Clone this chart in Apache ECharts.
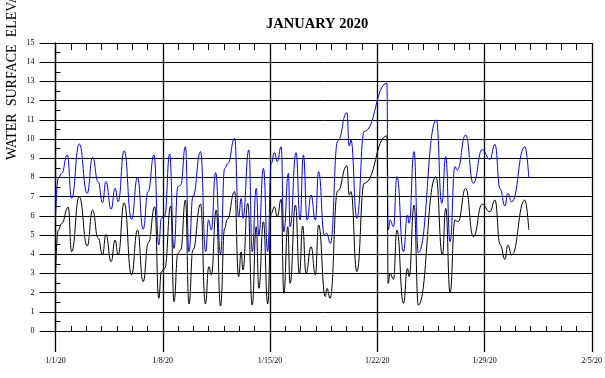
<!DOCTYPE html>
<html>
<head>
<meta charset="utf-8">
<script src="https://cdn.jsdelivr.net/npm/echarts@6/dist/echarts.min.js"></script>
<style>html,body{margin:0;padding:0;background:#fff}#c{width:605px;height:378px}</style>
</head>
<body>
<div id="c"></div>
<script>
// x values: days after 1/1/20 00:00 ; y values: water surface elevation
const xTickLabels = ['1/1/20', '1/8/20', '1/15/20', '1/22/20', '1/29/20', '2/5/20'];
const yTickValues = [0, 1, 2, 3, 4, 5, 6, 7, 8, 9, 10, 11, 12, 13, 14, 15];

const blackDays = [0.0, 0.18, 0.40, 0.83, 1.05, 1.55, 2.07, 2.42, 2.78, 3.07, 3.29, 3.63, 3.89, 4.09, 4.48, 4.96, 5.35, 5.72,
  6.06, 6.48, 6.74, 6.91, 7.13, 7.52, 7.73, 7.99, 8.17, 8.48, 8.71, 8.97, 9.47, 9.78, 10.01, 10.17, 10.49, 10.77,
  11.04, 11.21, 11.69, 11.95, 12.12, 12.23, 12.55, 12.84, 13.10, 13.27, 13.57, 13.85, 14.08, 14.29, 14.47, 14.73,
  14.90, 15.16, 15.31, 15.66, 15.92, 16.13, 16.35, 16.68, 16.96, 17.17, 17.61, 17.72, 17.92, 18.42, 19.02, 19.17,
  19.28, 19.67, 20.15, 21.63, 21.71, 21.84, 22.06, 22.28, 22.71, 22.97, 23.08, 23.40, 23.68, 24.83, 25.25, 25.47,
  25.75, 26.07, 26.27, 26.77, 27.27, 27.85, 28.35, 28.68, 29.02, 29.33, 29.52, 29.77, 30.63, 30.89];
const blackVals = [3.0, 5.26, 5.6, 6.45, 4.13, 7.0, 4.43, 6.3, 4.85, 3.96, 5.03, 3.61, 4.74, 3.96, 6.68, 2.92, 5.26, 2.57,
  4.6, 6.47, 1.7, 3.09, 3.26, 6.51, 1.53, 4.05, 4.22, 6.82, 1.41, 4.22, 6.61, 1.41, 3.35, 2.92, 6.3, 1.3,
  5.35, 5.82, 7.26, 2.83, 4.13, 3.18, 6.65, 1.35, 5.43, 2.22, 5.69, 1.41, 6.13, 6.47, 5.95, 6.86,
  1.96, 5.43, 2.48, 6.56, 2.97, 5.47, 3.0, 4.39, 2.92, 5.52, 1.79, 2.22, 1.7, 7.3, 8.6, 7.08,
  7.26, 3.09, 7.7, 10.16, 2.48, 3.0, 2.69, 5.26, 1.44, 3.26, 2.83, 6.56, 1.35, 8.04, 3.96, 6.39,
  2.0, 5.78, 5.69, 7.43, 4.91, 6.6, 6.21, 6.82, 4.5, 3.73, 4.48, 3.96, 6.82, 5.26];

const blueDays = [0.0, 0.18, 0.40, 0.77, 1.05, 1.55, 2.07, 2.42, 2.78, 3.07, 3.29, 3.63, 3.89, 4.09, 4.48, 4.96, 5.35, 5.72,
  6.04, 6.43, 6.74, 6.91, 7.13, 7.45, 7.73, 7.99, 8.17, 8.48, 8.71, 8.97, 9.47, 9.80, 9.99, 10.17, 10.45, 10.77,
  11.04, 11.25, 11.69, 11.95, 12.12, 12.23, 12.62, 12.84, 13.10, 13.27, 13.57, 13.85, 14.08, 14.29, 14.47, 14.73,
  14.90, 15.20, 15.31, 15.70, 15.96, 16.18, 16.42, 16.68, 16.96, 17.17, 17.55, 17.70, 17.94, 18.42, 19.02, 19.17,
  19.28, 19.67, 20.15, 21.63, 21.71, 21.84, 22.06, 22.28, 22.71, 22.97, 23.08, 23.40, 23.68, 24.86, 25.21, 25.47,
  25.75, 26.07, 26.22, 26.77, 27.27, 27.85, 28.35, 28.68, 29.02, 29.33, 29.52, 29.77, 30.63, 30.89];
const blueVals = [5.87, 7.95, 8.21, 9.17, 6.91, 9.74, 7.17, 9.05, 7.78, 6.68, 7.78, 6.34, 7.43, 6.73, 9.39, 5.82, 7.99, 5.3,
  7.26, 9.17, 4.48, 5.87, 5.99, 9.22, 4.3, 7.52, 7.6, 9.6, 4.13, 7.0, 9.34, 4.13, 5.78, 5.26, 8.25, 4.01,
  8.47, 8.73, 10.03, 5.95, 6.91, 5.87, 9.43, 4.13, 7.43, 5.0, 8.47, 4.13, 8.73, 9.29, 8.82, 9.6,
  5.17, 8.21, 5.43, 9.29, 5.78, 9.17, 5.78, 7.08, 5.78, 8.3, 5.0, 5.09, 4.57, 9.9, 11.37, 9.64,
  9.95, 5.87, 10.4, 12.9, 5.26, 5.78, 5.43, 8.04, 4.13, 6.04, 5.61, 9.34, 4.08, 10.99, 6.65, 9.08,
  4.65, 8.56, 8.39, 10.21, 7.69, 9.45, 8.94, 9.72, 7.4, 6.51, 7.17, 6.73, 9.6, 8.0];

const blackData = blackDays.map((d, i) => [d, blackVals[i]]);
const blueData = blueDays.map((d, i) => [d, blueVals[i]]);

const chart = echarts.init(document.getElementById('c'), null, { renderer: 'canvas' });
const serif = 'Liberation Serif';
const xMin = 0, xMax = 35, xStep = 7;
const yMin = yTickValues[0], yMax = yTickValues[yTickValues.length - 1];

chart.setOption({
  animation: false,
  backgroundColor: '#fff',
  title: {
    text: 'JANUARY 2020', left: 261, top: 12,
    textStyle: { fontFamily: serif, fontSize: 14.5, fontWeight: 'bold', color: '#000' }
  },
  graphic: [{
    type: 'text', x: 12, y: 160, rotation: Math.PI / 2,
    style: { text: 'WATER  SURFACE  ELEVATION  (FT)', fontFamily: serif, fontSize: 14, fill: '#000',
      textAlign: 'left', textVerticalAlign: 'middle' }
  }],
  grid: { left: 55.5, right: 12, top: 43, bottom: 47 },
  xAxis: [
    {
      type: 'value', min: xMin, max: xMax, interval: xStep, position: 'bottom',
      axisLine: { show: true, onZero: false, lineStyle: { color: '#000', width: 1 } },
      axisTick: { show: true, length: 21, lineStyle: { color: '#000', width: 1.3 } },
      axisLabel: { margin: 26, fontFamily: serif, fontSize: 8, color: '#000',
        formatter: v => xTickLabels[Math.round(v / xStep)] },
      splitLine: { show: true, lineStyle: { color: '#000', width: 1.3 } }
    },
    {
      type: 'value', min: xMin, max: xMax, interval: xStep, position: 'bottom',
      axisLine: { show: false, onZero: false },
      axisTick: { show: false, inside: true },
      minorTick: { show: true, splitNumber: 7, length: 5, lineStyle: { color: '#000', width: 1 } },
      axisLabel: { show: false }, splitLine: { show: false }
    },
    {
      type: 'value', min: xMin, max: xMax, interval: xStep, position: 'top',
      axisLine: { show: true, onZero: false, lineStyle: { color: '#000', width: 1 } },
      axisTick: { show: false, inside: true },
      minorTick: { show: true, splitNumber: 7, length: 7, lineStyle: { color: '#000', width: 1 } },
      axisLabel: { show: false }, splitLine: { show: false }
    }
  ],
  yAxis: [
    {
      type: 'value', min: yMin, max: yMax, interval: 1, position: 'left',
      axisLine: { show: true, onZero: false, lineStyle: { color: '#000', width: 1.3 } },
      axisTick: { show: true, length: 16, lineStyle: { color: '#000', width: 1 } },
      axisLabel: { margin: 21, fontFamily: serif, fontSize: 8, color: '#000' },
      splitLine: { show: true, lineStyle: { color: '#000', width: 1 } }
    },
    {
      type: 'value', min: yMin, max: yMax, interval: 1, position: 'left',
      axisLine: { show: false, onZero: false },
      axisTick: { show: false, inside: true },
      minorTick: { show: true, splitNumber: 2, length: 5, lineStyle: { color: '#000', width: 1 } },
      axisLabel: { show: false }, splitLine: { show: false }
    }
  ],
  series: [
    { name: 'Blue', type: 'line', data: blueData, xAxisIndex: 0, yAxisIndex: 0, showSymbol: false,
      smooth: 0.5, smoothMonotone: 'x', lineStyle: { color: '#0000ff', width: 1 }, z: 3 },
    { name: 'Black', type: 'line', data: blackData, xAxisIndex: 0, yAxisIndex: 0, showSymbol: false,
      smooth: 0.5, smoothMonotone: 'x', lineStyle: { color: '#000000', width: 1 }, z: 3 }
  ]
});
</script>
</body>
</html>
